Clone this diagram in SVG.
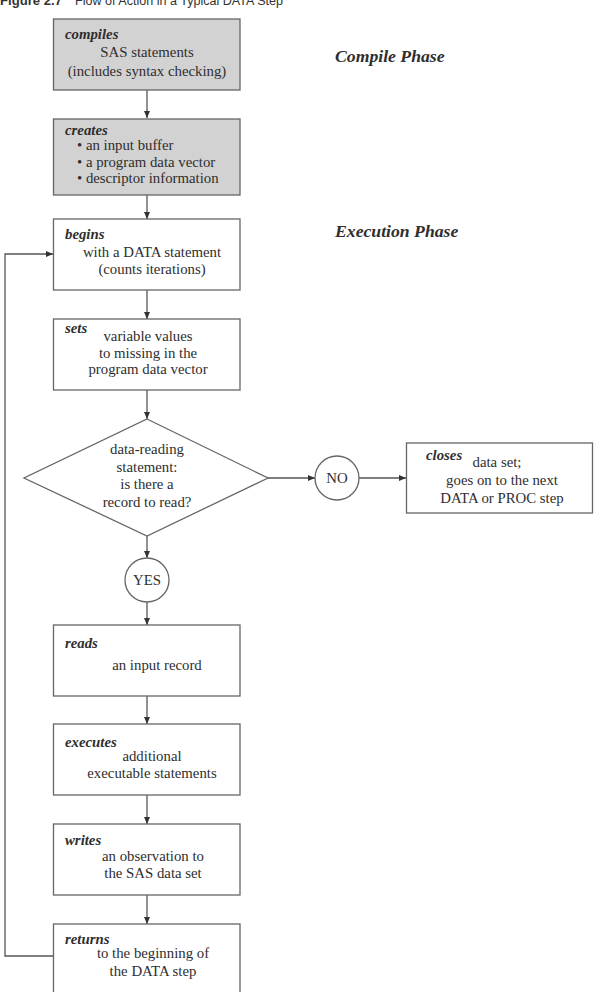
<svg xmlns="http://www.w3.org/2000/svg" width="604" height="992" viewBox="0 0 604 992">
<defs>
<marker id="ah" markerWidth="7" markerHeight="6" refX="7" refY="3" orient="auto" markerUnits="userSpaceOnUse">
<path d="M0,0 L7,3 L0,6 z" fill="#333"/>
</marker>
<style>
.box{fill:#fff;stroke:#666;stroke-width:1.3}
.grey{fill:#d2d2d2;stroke:#666;stroke-width:1.3}
.t{font-family:"Liberation Serif","Times New Roman",serif;font-size:14.8px;fill:#2e2e2e;text-anchor:middle}
.k{font-family:"Liberation Serif","Times New Roman",serif;font-size:14.8px;font-weight:bold;font-style:italic;fill:#2e2e2e}
.ph{font-family:"Liberation Serif","Times New Roman",serif;font-size:17.7px;font-weight:bold;font-style:italic;fill:#2e2e2e}
.b{font-family:"Liberation Serif","Times New Roman",serif;font-size:14.8px;fill:#2e2e2e}
.c{fill:none;stroke:#555;stroke-width:1.3}
.cap{font-family:"Liberation Sans",Arial,sans-serif;font-size:13px;fill:#333}
</style>
</defs>
<g id="title">
<text class="cap" x="0" y="5"><tspan font-weight="bold" textLength="62" lengthAdjust="spacingAndGlyphs">Figure 2.7</tspan></text>
<text class="cap" x="75" y="5" textLength="208" lengthAdjust="spacingAndGlyphs">Flow of Action in a Typical DATA Step</text>
</g>
<g id="phase-labels">
<text class="ph" x="335" y="62">Compile Phase</text>
<text class="ph" x="335" y="237">Execution Phase</text>
</g>
<g id="connectors">
<line class="c" x1="147" y1="90" x2="147" y2="118" marker-end="url(#ah)"/>
<line class="c" x1="147" y1="195" x2="147" y2="219" marker-end="url(#ah)"/>
<line class="c" x1="147" y1="290" x2="147" y2="319" marker-end="url(#ah)"/>
<line class="c" x1="147" y1="390" x2="147" y2="419" marker-end="url(#ah)"/>
<line class="c" x1="147" y1="536" x2="147" y2="558" marker-end="url(#ah)"/>
<line class="c" x1="147" y1="602" x2="147" y2="625" marker-end="url(#ah)"/>
<line class="c" x1="147" y1="696" x2="147" y2="724" marker-end="url(#ah)"/>
<line class="c" x1="147" y1="795" x2="147" y2="824" marker-end="url(#ah)"/>
<line class="c" x1="147" y1="895" x2="147" y2="924" marker-end="url(#ah)"/>
<line class="c" x1="268" y1="478" x2="315" y2="478" marker-end="url(#ah)"/>
<line class="c" x1="359" y1="478" x2="406" y2="478" marker-end="url(#ah)"/>
<polyline class="c" points="53,956 5,956 5,254 53,254" marker-end="url(#ah)"/>
</g>
<g id="compiles">
<rect class="grey" x="53.5" y="19" width="186.5" height="71"/>
<text class="k" x="65" y="39">compiles</text>
<text class="t" x="147" y="57">SAS statements</text>
<text class="t" x="147" y="76">(includes syntax checking)</text>
</g>
<g id="creates">
<rect class="grey" x="53.5" y="119" width="186.5" height="76"/>
<text class="k" x="65" y="135">creates</text>
<text class="b" x="77" y="150">• an input buffer</text>
<text class="b" x="77" y="166.5">• a program data vector</text>
<text class="b" x="77" y="183">• descriptor information</text>
</g>
<g id="begins">
<rect class="box" x="53.5" y="219" width="186.5" height="71"/>
<text class="k" x="65" y="239">begins</text>
<text class="t" x="152" y="257">with a DATA statement</text>
<text class="t" x="152" y="274">(counts iterations)</text>
</g>
<g id="sets">
<rect class="box" x="53.5" y="319" width="186.5" height="71"/>
<text class="k" x="65" y="333">sets</text>
<text class="t" x="148" y="341">variable values</text>
<text class="t" x="148" y="358">to missing in the</text>
<text class="t" x="148" y="374">program data vector</text>
</g>
<g id="decision">
<polygon class="box" points="147,419 268,478 147,536 24,478"/>
<text class="t" x="147" y="454">data-reading</text>
<text class="t" x="147" y="471.5">statement:</text>
<text class="t" x="147" y="489">is there a</text>
<text class="t" x="147" y="507">record to read?</text>
</g>
<g id="no">
<circle class="box" cx="337" cy="478" r="22"/>
<text class="t" x="337" y="483">NO</text>
</g>
<g id="closes">
<rect class="box" x="406.5" y="443" width="186" height="70"/>
<text class="k" x="426" y="460">closes</text>
<text class="t" x="497" y="467">data set;</text>
<text class="t" x="502" y="485">goes on to the next</text>
<text class="t" x="502" y="503">DATA or PROC step</text>
</g>
<g id="yes">
<circle class="box" cx="147" cy="580" r="22"/>
<text class="t" x="147" y="585">YES</text>
</g>
<g id="reads">
<rect class="box" x="53.5" y="625" width="186.5" height="71"/>
<text class="k" x="65" y="648">reads</text>
<text class="t" x="157" y="670">an input record</text>
</g>
<g id="executes">
<rect class="box" x="53.5" y="724" width="186.5" height="71"/>
<text class="k" x="65" y="747">executes</text>
<text class="t" x="152" y="761">additional</text>
<text class="t" x="152" y="778">executable statements</text>
</g>
<g id="writes">
<rect class="box" x="53.5" y="824" width="186.5" height="71"/>
<text class="k" x="65" y="845">writes</text>
<text class="t" x="153" y="861">an observation to</text>
<text class="t" x="153" y="878">the SAS data set</text>
</g>
<g id="returns">
<rect class="box" x="53.5" y="924" width="186.5" height="71"/>
<text class="k" x="65" y="944">returns</text>
<text class="t" x="153" y="958">to the beginning of</text>
<text class="t" x="153" y="976">the DATA step</text>
</g>
</svg>
